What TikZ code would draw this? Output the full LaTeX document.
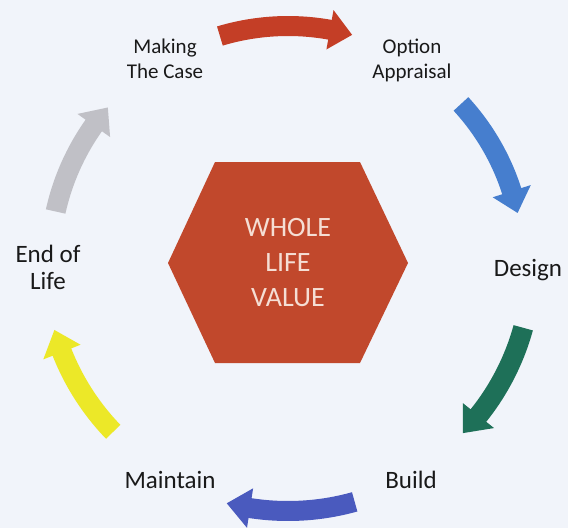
\documentclass[tikz,border=0pt]{standalone}
\usepackage{fontspec}
\setmainfont{Carlito}
\definecolor{bgcol}{RGB}{241,244,250}
\definecolor{hexcol}{RGB}{193,72,44}
\definecolor{hextext}{RGB}{245,222,212}
\definecolor{labelcol}{RGB}{25,25,25}
\definecolor{arrred}{RGB}{196,62,38}
\definecolor{arrblue}{RGB}{70,126,206}
\definecolor{arrgreen}{RGB}{30,112,88}
\definecolor{arrindigo}{RGB}{74,90,190}
\definecolor{arryellow}{RGB}{236,232,40}
\definecolor{arrgray}{RGB}{192,192,198}
% #1 tail angle, #2 tip angle, #3 radius, #4 colour
\newcommand{\cycarrow}[4]{%
  \fill[#4] (#1:#3pt+10pt) arc[start angle=#1, end angle=#2+5.5, radius=#3pt+10pt]
    -- (#2+5.5:#3pt+20pt) -- (#2:#3pt) -- (#2+5.5:#3pt-20pt) -- (#2+5.5:#3pt-10pt)
    arc[start angle=#2+5.5, end angle=#1, radius=#3pt-10pt] -- cycle;}
\begin{document}
\begin{tikzpicture}[x=1pt,y=1pt,
  lbl/.style={font=\fontsize{21}{25}\selectfont, text=labelcol, align=center, inner sep=0pt},
  biglbl/.style={font=\fontsize{25}{27}\selectfont, text=labelcol, align=center, inner sep=0pt},
  hexlbl/.style={font=\fontsize{28}{35}\selectfont, text=hextext, align=center, inner sep=0pt}]
\fill[bgcol] (0,0) rectangle (568,-528);
% hexagon
\fill[hexcol] (168,-263) -- (215,-162) -- (360,-162) -- (408,-263) -- (360,-363) -- (215,-363) -- cycle;
\node[hexlbl] (hex) at (288,-263) {WHOLE\\LIFE\\VALUE};
% arrows
\begin{scope}[shift={(288,-263)}]
\cycarrow{106.7}{74.3}{237}{arrred}
\cycarrow{42.6}{12.3}{235}{arrblue}
\cycarrow{-15.4}{-44.2}{244}{arrgreen}
\cycarrow{-74.4}{-104.3}{248}{arrindigo}
\cycarrow{224}{196}{243}{arryellow}
\cycarrow{167.5}{139.2}{238}{arrgray}
\end{scope}
% labels
\node[lbl] (mk) at (165,-59) {Making\\The Case};
\node[lbl] (op) at (412,-60) {Option\\Appraisal};
\node[biglbl, anchor=base] (de) at (528,-276) {Design};
\node[biglbl, anchor=base] (bu) at (411,-488) {Build};
\node[biglbl, anchor=base] (ma) at (170,-488) {Maintain};
\node[biglbl] (en) at (48,-267) {End of\\Life};
\end{tikzpicture}
\end{document}
